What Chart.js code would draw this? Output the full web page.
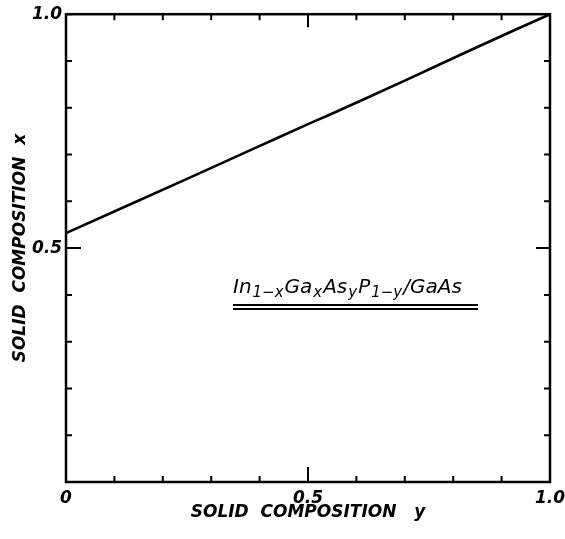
<!DOCTYPE html>
<html>
<head>
<meta charset="utf-8">
<script src="https://cdn.jsdelivr.net/npm/chart.js@4"></script>
<style>
  html, body { margin: 0; padding: 0; background: #fff; }
  #wrap { width: 565px; height: 539px; }
</style>
</head>
<body>
<div id="wrap"><canvas id="chart" width="565" height="539"></canvas></div>
<script>
// solid composition y (x axis) vs solid composition x (y axis)
const compY = [0, 0.25, 0.38, 0.5, 0.54, 0.7, 0.85, 1.0];
const compX = [0.532, 0.648, 0.709, 0.765, 0.783, 0.858, 0.93, 1.0];

const tickStep = 0.1;
const labelledTicks = ['0', '0.5', '1.0'];
const xTitle = 'SOLID  COMPOSITION   y';
const yTitle = 'SOLID  COMPOSITION  x';

// caption anchor, in data units
const captionAt = { x: 0.345, y: 0.404 };

const axisFont = { family: 'DejaVu Sans', size: 17, style: 'italic', weight: 'bold' };

function tickLabel(v) {
    const s = Math.abs(v) < 1e-9 ? '0' : v.toFixed(1);
    return labelledTicks.includes(s) ? s : '';
}

// frame with inward ticks on all four sides
const framePlugin = {
    id: 'frame',
    afterDatasetsDraw(chart) {
        const { ctx, chartArea: a, scales } = chart;
        ctx.save();
        ctx.strokeStyle = '#000';
        ctx.lineWidth = 2.5;
        ctx.strokeRect(a.left, a.top, a.right - a.left, a.bottom - a.top);
        ctx.lineWidth = 2;
        scales.x.ticks.forEach(t => {
            const px = scales.x.getPixelForValue(t.value);
            const major = Math.abs(t.value - 0.5) < 1e-6;
            ctx.beginPath();
            ctx.moveTo(px, a.bottom); ctx.lineTo(px, a.bottom - (major ? 15 : 6));
            ctx.moveTo(px, a.top); ctx.lineTo(px, a.top + (major ? 13 : 6));
            ctx.stroke();
        });
        scales.y.ticks.forEach(t => {
            const py = scales.y.getPixelForValue(t.value);
            const major = Math.abs(t.value - 0.5) < 1e-6;
            ctx.beginPath();
            ctx.moveTo(a.left, py); ctx.lineTo(a.left + (major ? 15 : 6), py);
            ctx.moveTo(a.right, py); ctx.lineTo(a.right - (major ? 14 : 6), py);
            ctx.stroke();
        });
        ctx.restore();
    }
};

// In1-xGaxAsyP1-y/GaAs with a double underline
const captionPlugin = {
    id: 'caption',
    afterDatasetsDraw(chart) {
        const { ctx, scales } = chart;
        const x0 = scales.x.getPixelForValue(captionAt.x);
        const base = scales.y.getPixelForValue(captionAt.y);
        const parts = [
            ['In', 0], ['1\u2212x', 1], ['Ga', 0], ['x', 1], ['As', 0], ['y', 1],
            ['P', 0], ['1\u2212y', 1], ['/GaAs', 0]
        ];
        ctx.save();
        ctx.fillStyle = '#000';
        ctx.textBaseline = 'alphabetic';
        let x = x0;
        parts.forEach(([txt, sub]) => {
            ctx.font = sub ? 'italic 15px "DejaVu Sans"' : 'italic 20px "DejaVu Sans"';
            ctx.fillText(txt, x, base + (sub ? 4 : 0));
            x += ctx.measureText(txt).width + 1;
        });
        ctx.strokeStyle = '#000';
        ctx.lineWidth = 2;
        const end = x0 + 245;
        [12, 16].forEach(d => {
            ctx.beginPath();
            ctx.moveTo(x0, base + d);
            ctx.lineTo(end, base + d);
            ctx.stroke();
        });
        ctx.restore();
    }
};

new Chart(document.getElementById('chart'), {
    type: 'scatter',
    data: {
        datasets: [{
            data: compY.map((v, i) => ({ x: v, y: compX[i] })),
            showLine: true,
            borderColor: '#000',
            borderWidth: 2.6,
            pointRadius: 0,
            tension: 0.2,
            fill: false
        }]
    },
    options: {
        responsive: false,
        animation: false,
        devicePixelRatio: 1,
        layout: { padding: { top: 14, right: 0, left: 0, bottom: 0 } },
        plugins: {
            legend: { display: false },
            tooltip: { enabled: false }
        },
        scales: {
            x: {
                type: 'linear',
                min: 0,
                max: 1,
                afterFit(scale) { scale.height = 57; scale.paddingRight = 15; },
                grid: { display: false, drawTicks: false },
                border: { display: false },
                ticks: {
                    stepSize: tickStep,
                    autoSkip: false,
                    maxRotation: 0,
                    padding: 6,
                    color: '#000',
                    font: axisFont,
                    callback: v => tickLabel(v)
                },
                title: {
                    display: true,
                    text: xTitle,
                    color: '#000',
                    font: { family: 'DejaVu Sans', size: 17, style: 'italic', weight: 'bold' },
                    padding: { top: 0, bottom: 16 }
                }
            },
            y: {
                type: 'linear',
                min: 0,
                max: 1,
                afterFit(scale) { scale.width = 66; },
                grid: { display: false, drawTicks: false },
                border: { display: false },
                ticks: {
                    stepSize: tickStep,
                    autoSkip: false,
                    padding: 4,
                    color: '#000',
                    font: axisFont,
                    callback: v => (Math.abs(v) < 1e-9 ? '' : tickLabel(v))
                },
                title: {
                    display: true,
                    text: yTitle,
                    color: '#000',
                    font: { family: 'DejaVu Sans', size: 17, style: 'italic', weight: 'bold' },
                    padding: { top: 10, bottom: 0 }
                }
            }
        }
    },
    plugins: [framePlugin, captionPlugin]
});
</script>
</body>
</html>
